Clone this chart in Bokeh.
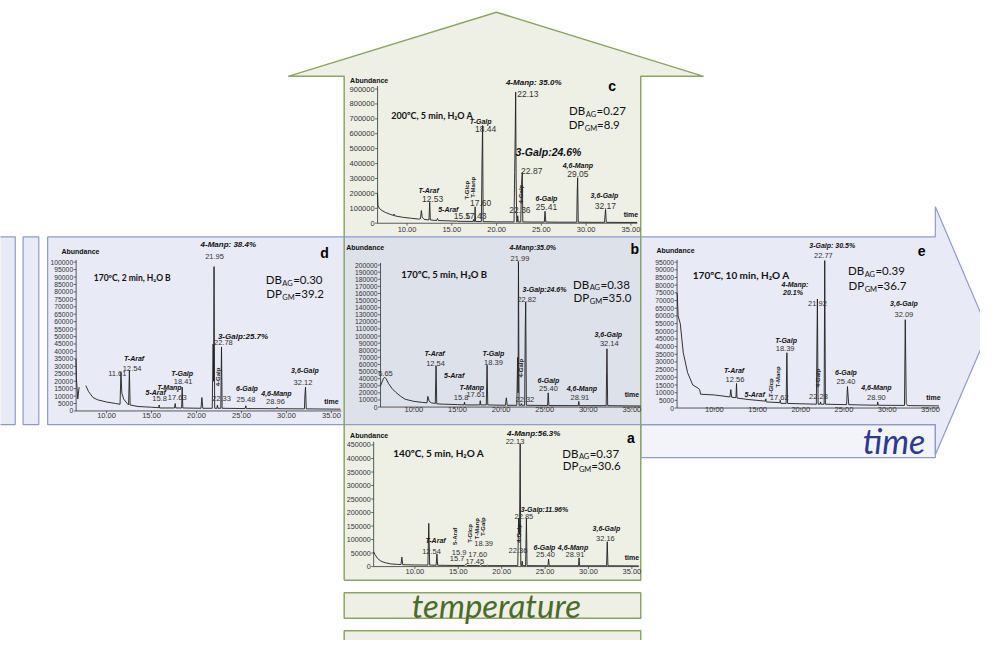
import math
from bokeh.plotting import figure
from bokeh.models import Range1d
from bokeh.core.properties import value
from bokeh.embed import file_html
from bokeh.resources import INLINE

# ===================== DATA =====================
x_ticks = [10, 15, 20, 25, 30, 35]
x_tick_labels = ["10.00", "15.00", "20.00", "25.00", "30.00", "35.00"]

# panel a : 140 C, 5 min, H2O A
a_t = [5.25, 5.4, 5.7, 6.1, 6.6, 7.2, 8.0, 8.4, 8.5, 8.6, 10.0, 11.5, 11.6, 11.7, 12.45, 12.54, 12.62,
       13.5, 15.7, 15.9, 16.0, 17.45, 17.6, 17.7, 18.3, 18.39, 18.45, 21.85, 21.95, 22.05, 22.13, 22.2,
       22.3, 22.36, 22.42, 22.75, 22.85, 22.92, 25.33, 25.4, 25.48, 28.85, 28.91, 28.98, 32.08, 32.16,
       32.24, 35.8]
a_y = [55000, 45000, 30000, 20000, 14000, 10000, 8000, 7500, 35000, 7000, 6000, 5500, 160000, 5500, 5000,
       47000, 5000, 4500, 4000, 8000, 4000, 3500, 8000, 3500, 3500, 6000, 3500, 3500, 180000, 120000,
       455000, 3500, 3500, 20000, 3500, 3500, 180000, 3500, 3000, 28000, 3000, 3000, 32000, 3000, 3000,
       92000, 3000, 2500]
a_yticks = [0, 50000, 100000, 150000, 200000, 250000, 300000, 350000, 400000, 450000]

# panel b : 170 C, 5 min, H2O B
b_t = [6.17, 6.3, 6.5, 6.65, 6.8, 7.1, 7.5, 7.9, 8.5, 9.0, 10.0, 11.0, 11.5, 11.6, 11.75, 12.0, 12.45,
       12.54, 12.62, 13.5, 15.0, 15.75, 15.8, 15.85, 17.55, 17.61, 17.67, 18.3, 18.39, 18.47, 20.5, 20.6,
       20.7, 21.8, 21.9, 21.95, 21.99, 22.06, 22.27, 22.32, 22.38, 22.7, 22.77, 22.82, 22.9, 25.33, 25.4,
       25.48, 28.85, 28.91, 28.97, 32.05, 32.1, 32.14, 32.22, 36.0]
b_y = [30000, 34000, 40000, 42000, 40000, 33000, 26000, 21000, 15000, 11000, 8000, 6500, 6000, 15000,
       8000, 6000, 5000, 58000, 4500, 4000, 3500, 3000, 7000, 3000, 3000, 9000, 3000, 3000, 59000, 3000,
       2500, 13000, 2500, 2500, 70000, 20000, 205000, 2500, 2500, 5000, 2500, 2500, 110000, 148000, 2500,
       2200, 20000, 2200, 2000, 8000, 2000, 2000, 50000, 82000, 2000, 1500]
b_yticks = list(range(0, 200001, 10000))

# panel c : 200 C, 5 min, H2O A
c_t = [6.7, 6.75, 6.9, 7.2, 7.6, 8.2, 8.5, 8.55, 8.6, 9.5, 10.5, 11.3, 11.5, 11.6, 11.7, 11.9, 12.45,
       12.53, 12.6, 13.3, 13.4, 13.5, 15.0, 15.5, 15.55, 15.6, 17.38, 17.43, 17.48, 17.55, 17.6, 17.65,
       18.3, 18.38, 18.44, 18.5, 20.0, 21.85, 21.95, 22.02, 22.08, 22.13, 22.18, 22.25, 22.3, 22.36,
       22.42, 22.7, 22.78, 22.87, 22.93, 24.0, 25.33, 25.41, 25.5, 27.0, 28.95, 29.0, 29.05, 29.12, 31.0,
       32.05, 32.12, 32.17, 32.25, 35.7]
c_y = [200000, 120000, 100000, 85000, 72000, 58000, 52000, 62000, 50000, 40000, 33000, 28000, 30000,
       85000, 40000, 26000, 22000, 140000, 22000, 18000, 32000, 18000, 15000, 14000, 18000, 13000, 12000,
       25000, 12000, 12000, 110000, 12000, 11000, 440000, 655000, 11000, 9000, 9000, 9000, 340000,
       600000, 880000, 300000, 9000, 9000, 50000, 9000, 9000, 260000, 340000, 9000, 8000, 8000, 80000,
       8000, 7000, 7000, 200000, 305000, 7000, 6000, 6000, 60000, 92000, 6000, 5000]
c_yticks = [0, 100000, 200000, 300000, 400000, 500000, 600000, 700000, 800000, 900000]

# panel d : 170 C, 2 min, H2O B
d_t = [6.6, 6.65, 6.8, 6.95, float("nan"), 7.7, 8.0, 8.5, 9.0, 10.0, 11.0, 11.5, 11.6, 11.7, 11.9, 12.3,
       12.45, 12.54, 12.62, 13.5, 15.0, 15.8, 15.85, 15.9, 17.55, 17.63, 17.7, 18.35, 18.41, 18.48, 20.5,
       20.6, 20.7, 21.75, 21.85, 21.9, 21.95, 22.02, 22.28, 22.33, 22.38, 22.7, 22.78, 22.85, 25.4, 25.48,
       25.55, 28.9, 28.96, 29.02, 32.0, 32.05, 32.12, 32.2, 36.0]
d_y = [35000, 22000, 8000, 16000, float("nan"), 17000, 13000, 9000, 7500, 6000, 5000, 4500, 26000, 12000,
       8000, 5000, 4000, 27500, 4000, 3000, 2500, 2200, 4000, 2000, 2000, 5000, 2000, 2000, 16000, 2000,
       1800, 9000, 1800, 1800, 45000, 20000, 97000, 1800, 1800, 4000, 1800, 1800, 43000, 1800, 1600, 3500,
       1600, 1500, 2500, 1500, 1400, 10000, 16000, 1400, 1200]
d_yticks = list(range(0, 100001, 5000))

# panel e : 170 C, 10 min, H2O A
e_t = [5.7, 5.8, 6.05, 6.4, 6.9, 7.5, 8.1, 8.3, 8.4, 10.0, 11.0, 11.8, 11.9, 12.0, 12.5, 12.56, 12.62,
       14.0, 15.9, 15.95, 16.0, 17.55, 17.62, 17.7, 18.3, 18.39, 18.47, 21.8, 21.92, 22.0, 22.23, 22.28,
       22.33, 22.7, 22.77, 22.85, 25.3, 25.4, 25.55, 27.0, 28.85, 28.9, 28.97, 32.0, 32.09, 32.2, 32.35,
       36.0]
e_y = [75000, 60000, 55000, 36000, 23000, 15000, 13000, 12000, 9000, 8500, 7800, 7200, 12000, 7000, 6800,
       16000, 6500, 5500, 4500, 6000, 4000, 3500, 5000, 3000, 3000, 36000, 3000, 2500, 71000, 2500, 2500,
       4000, 2500, 2500, 96000, 2500, 2200, 14000, 2200, 2000, 1800, 4000, 1800, 1700, 57500, 3000, 1600,
       1400]
e_yticks = list(range(0, 95001, 5000))

# ===================== LAYOUT (reference pixel frame 998 x 658) =====================
W, H = 998, 658
FN = "Liberation Sans Narrow, Liberation Sans, sans-serif"
FC = "Lato"

green_fill, green_line = "#eef0e6", "#8ca566"
blue_fill, blue_line = "#e8eaf6", "#8f9acb"
over_fill = "#dde1e9"

p = figure(width=980, height=640, x_range=Range1d(0, W), y_range=Range1d(H, 0),
           x_axis_type=None, y_axis_type=None, toolbar_location=None,
           output_backend="svg", min_border=0)
p.outline_line_color = None
p.grid.visible = False
p.background_fill_color = "white"
p.border_fill_color = "white"

# ---- green (temperature) arrow
ga_x = [350, 350, 293, 505, 716, 652, 652]
ga_y = [596, 78, 78, 12, 78, 78, 596]
p.patch(ga_x, ga_y, fill_color=green_fill, line_color=None)
# ---- blue (time) arrow
ba_x = [48, 952, 952, 1006, 952, 952, 48]
ba_y = [243, 243, 212, 340, 467, 436, 436]
p.patch(ba_x, ba_y, fill_color=blue_fill, line_color=None)
# left strips
p.quad(left=[-3, 23], right=[15, 39], top=[243, 243], bottom=[436, 436],
       fill_color=blue_fill, line_color=blue_line, line_width=1.2)
# overlap (panel b)
p.quad(left=[350], right=[652], top=[243], bottom=[436], fill_color=over_fill, line_color=None)
# "time" box
p.quad(left=[652], right=[952], top=[436], bottom=[470], fill_color="#f3f4fa", line_color=blue_line,
       line_width=1.2)
# temperature boxes
p.quad(left=[350, 350], right=[652, 652], top=[609, 648], bottom=[635, 675],
       fill_color=green_fill, line_color=green_line, line_width=1.5)
# outlines
p.line(ba_x + [48], ba_y + [243], line_color=blue_line, line_width=1.2)
p.line(ga_x + [350], ga_y + [596], line_color=green_line, line_width=1.5)

# big texts
p.text(x=[505], y=[621], text=["temperature"], text_font=value(FC), text_font_style="italic",
       text_font_size="33px", text_color="#4b6b2a", text_align="center", text_baseline="middle")
p.text(x=[910], y=[452], text=["time"], text_font=value(FC), text_font_style="italic",
       text_font_size="34px", text_color="#2c3a8e", text_align="center", text_baseline="middle")

STY = {
    "rt": dict(size="7.5px", style="normal", color="#333333", angle=0.0),
    "rtL": dict(size="8.5px", style="normal", color="#333333", angle=0.0),
    "nm": dict(size="7px", style="bold italic", color="#111111", angle=0.0),
    "pk": dict(size="8px", style="bold italic", color="#111111", angle=0.0),
    "pkL": dict(size="10.5px", style="bold italic", color="#111111", angle=0.0),
    "vt": dict(size="6px", style="bold", color="#222222", angle=math.pi / 2),
}
SUBW = {"AG": 11.0, "GM": 12.5}


def panel(name, t, y, yticks, geo, labels, cond, db, dp, letter):
    k = (geo["px35"] - geo["px10"]) / 25.0
    xr = Range1d(10 - geo["px10"] / k, 10 + (W - geo["px10"]) / k)
    ymax, py0, py1 = geo["ymax"], geo["py0"], geo["py1"]
    yr = Range1d((py0 - H) / (py0 - py1) * ymax, py0 / (py0 - py1) * ymax)
    xn, yn = "x_" + name, "y_" + name
    p.extra_x_ranges[xn] = xr
    p.extra_y_ranges[yn] = yr
    ax = geo["ax"]
    axc = "#333333"
    # axes
    p.segment(x0=[ax], y0=[0], x1=[ax], y1=[geo["ytop"]], x_range_name="default", y_range_name=yn,
              line_color=axc, line_width=0.8)
    p.segment(x0=[geo["t0"]], y0=[0], x1=[geo["t1"]], y1=[0], x_range_name=xn, y_range_name=yn,
              line_color=axc, line_width=0.8)
    p.segment(x0=[ax - 2.5] * len(yticks), y0=yticks, x1=[ax] * len(yticks), y1=yticks,
              x_range_name="default", y_range_name=yn, line_color=axc, line_width=0.7)
    p.text(x=[ax - 3] * len(yticks), y=yticks, text=[str(v) for v in yticks], x_range_name="default",
           y_range_name=yn, text_font=value(FN), text_font_size=geo["yfs"], text_color="#333333",
           text_align="right", text_baseline="middle")
    p.segment(x0=x_ticks, y0=[py0] * 6, x1=x_ticks, y1=[py0 + 2.5] * 6, x_range_name=xn,
              y_range_name="default", line_color=axc, line_width=0.7)
    p.text(x=x_ticks, y=[geo["xly"]] * 6, text=x_tick_labels, x_range_name=xn, y_range_name="default",
           text_font=value(FN), text_font_size="7.5px", text_color="#333333", text_align="center",
           text_baseline="middle")
    # trace
    p.line(t, y, x_range_name=xn, y_range_name=yn, line_color="#1e1e1e", line_width=0.9)
    # frame texts
    p.text(x=[geo["abx"]], y=[geo["aby"]], text=["Abundance"], text_font=value(FN),
           text_font_style="bold", text_font_size="7px", text_color="#111111", text_baseline="middle")
    p.text(x=[geo["tmx"]], y=[geo["tmy"]], text=["time"], text_font=value(FN), text_font_style="bold",
           text_font_size="7px", text_color="#111111", text_align="center", text_baseline="middle")
    p.text(x=[letter[1]], y=[letter[2]], text=[letter[0]], text_font=value("Liberation Sans"),
           text_font_style="bold", text_font_size="14px", text_color="#000000", text_align="center",
           text_baseline="middle")
    p.text(x=[cond[1]], y=[cond[2]], text=[cond[0]], text_font=value(FC), text_font_style="bold",
           text_font_size=cond[3], text_color="#111111", text_baseline="middle")
    for (main, sub, rest, xs, yy, ys) in (db, dp):
        p.text(x=[xs - 0.5], y=[yy], text=[main], text_font=value(FC), text_font_size="11.5px",
               text_color="#111111", text_baseline="middle", text_align="right")
        p.text(x=[xs], y=[ys], text=[sub], text_font=value(FC), text_font_size="7.5px",
               text_color="#111111", text_baseline="middle")
        p.text(x=[xs + SUBW[sub]], y=[yy], text=[rest], text_font=value(FC), text_font_size="11.5px",
               text_color="#111111", text_baseline="middle")
    # peak annotations
    for s, st in STY.items():
        sel = [lb for lb in labels if lb[3] == s]
        if not sel:
            continue
        p.text(x=[lb[1] for lb in sel], y=[lb[2] for lb in sel], text=[lb[0] for lb in sel],
               text_font=value(FN), text_font_size=st["size"], text_font_style=st["style"],
               text_color=st["color"], angle=st["angle"], text_align="center", text_baseline="middle")


# ---- panel c
panel("c", c_t, c_y, c_yticks,
      dict(ax=384, px10=414, px35=642, py0=229, py1=91, ymax=900000, ytop=920000, t0=6.7, t1=35.7,
           yfs="7.5px", xly=235, abx=356, aby=82, tmx=642, tmy=220),
      [("4-Manp: 35.0%", 543, 84, "pk"), ("22.13", 537, 96, "rtL"), ("T-Galp", 489, 124, "nm"),
       ("18.44", 494, 132, "rtL"), ("3-Galp:24.6%", 558, 156, "pkL"), ("22.87", 541, 175, "rtL"),
       ("4,6-Manp", 588, 170, "nm"), ("29.05", 588, 178, "rtL"), ("T-Araf", 436, 195, "nm"),
       ("12.53", 440, 204, "rtL"), ("5-Araf", 456, 215, "nm"), ("15.5", 470, 222, "rtL"),
       ("17.43", 484, 222, "rtL"), ("17.60", 489, 208, "rtL"), ("T-Glcp", 475, 195, "vt"),
       ("T-Manp", 481, 192, "vt"), ("6-Galp", 556, 204, "nm"), ("25.41", 556, 212, "rtL"),
       ("3,6-Galp", 615, 200, "nm"), ("32.17", 616, 211, "rtL"), ("22.36", 529, 215, "rtL"),
       ("4-Galp", 530, 199, "vt")],
      ("200ºC, 5 min, H₂O A", 398, 118, "9px"),
      ("DB", "AG", "=0.27", 596, 113, 117),
      ("DP", "GM", "=8.9", 595, 128, 132),
      ("c", 623, 88))

# ---- panel d
panel("d", d_t, d_y, d_yticks,
      dict(ax=77, px10=108, px35=337, py0=422, py1=269, ymax=100000, ytop=101500, t0=6.6, t1=36.1,
           yfs="6.8px", xly=427, abx=62, aby=258, tmx=337, tmy=412),
      [("4-Manp: 38.4%", 232, 251, "pk"), ("21.95", 218, 263, "rt"), ("3-Galp:25.7%", 247, 345, "pk"),
       ("22.78", 227, 352, "rt"), ("T-Araf", 136, 368, "nm"), ("12.54", 134, 378, "rt"),
       ("11.61", 119, 384, "rt"), ("5-Araf", 158, 403, "nm"), ("15.8", 162, 409, "rt"),
       ("T-Manp", 172, 398, "nm"), ("17.63", 180, 408, "rt"), ("T-Galp", 185, 383, "nm"),
       ("18.41", 186, 392, "rt"), ("4-Galp", 221, 387, "vt"), ("22.33", 225, 409, "rt"),
       ("6-Galp", 251, 399, "nm"), ("25.48", 250, 410, "rt"), ("4,6-Manp", 281, 404, "nm"),
       ("28.96", 280, 412, "rt"), ("3,6-Galp", 310, 380, "nm"), ("32.12", 308, 393, "rt")],
      ("170ºC, 2 min, H₂O B", 95, 285, "8.5px"),
      ("DB", "AG", "=0.30", 287, 287, 291),
      ("DP", "GM", "=39.2", 287, 301, 305),
      ("d", 330, 260))

# ---- panel b
panel("b", b_t, b_y, b_yticks,
      dict(ax=387, px10=421, px35=643, py0=418, py1=272, ymax=200000, ytop=203000, t0=6.17, t1=36.0,
           yfs="6.8px", xly=421, abx=352, aby=254, tmx=643, tmy=405),
      [("4-Manp:35.0%", 542, 254, "nm"), ("21.99", 529, 265, "rt"), ("3-Galp:24.6%", 554, 297, "nm"),
       ("22.82", 536, 307, "rt"), ("T-Araf", 442, 363, "nm"), ("12.54", 443, 373, "rt"),
       ("5-Araf", 462, 386, "nm"), ("T-Manp", 480, 398, "nm"), ("15.8", 469, 408, "rt"),
       ("17.61", 484, 405, "rt"), ("T-Galp", 502, 363, "nm"), ("18.39", 502, 372, "rt"),
       ("4-Galp", 530, 378, "vt"), ("22.32", 534, 410, "rt"), ("6-Galp", 558, 391, "nm"),
       ("25.40", 558, 399, "rt"), ("4,6-Manp", 592, 399, "nm"), ("28.91", 590, 408, "rt"),
       ("3,6-Galp", 619, 343, "nm"), ("32.14", 620, 353, "rt"), ("6.65", 392, 384, "rt")],
      ("170ºC, 5 min, H₂O B", 408, 282, "9.5px"),
      ("DB", "AG", "=0.38", 600, 292, 295),
      ("DP", "GM", "=35.0", 600, 305, 309),
      ("b", 646, 256))

# ---- panel e
panel("e", e_t, e_y, e_yticks,
      dict(ax=689, px10=727, px35=947, py0=419, py1=269, ymax=95000, ytop=96500, t0=5.7, t1=36.0,
           yfs="6.8px", xly=421, abx=668, aby=257, tmx=950, tmy=408),
      [("3-Galp: 30.5%", 847, 252, "nm"), ("22.77", 838, 262, "rt"), ("4-Manp:", 809, 292, "nm"),
       ("20.1%", 807, 300, "nm"), ("21.92", 832, 312, "rt"), ("T-Araf", 747, 380, "nm"),
       ("12.56", 748, 390, "rt"), ("5-Araf", 768, 405, "nm"), ("T-Glcp", 785, 398, "vt"),
       ("T-Manp", 792, 387, "vt"), ("17.62", 793, 408, "rt"), ("T-Galp", 800, 350, "nm"),
       ("18.39", 799, 358, "rt"), ("4-Galp", 833, 388, "vt"), ("22.28", 833, 407, "rt"),
       ("6-Galp", 861, 382, "nm"), ("25.40", 861, 392, "rt"), ("4,6-Manp", 892, 398, "nm"),
       ("28.90", 892, 408, "rt"), ("3,6-Galp", 920, 312, "nm"), ("32.09", 920, 323, "rt")],
      ("170ºC, 10 min, H₂O A", 705, 282, "10px"),
      ("DB", "AG", "=0.39", 880, 278, 282),
      ("DP", "GM", "=36.7", 880, 293, 297),
      ("e", 938, 258))

# ---- panel a
panel("a", a_t, a_y, a_yticks,
      dict(ax=380, px10=422, px35=643, py0=582, py1=457, ymax=450000, ytop=462000, t0=5.25, t1=35.8,
           yfs="7.2px", xly=587, abx=356, aby=447, tmx=643, tmy=573),
      [("4-Manp:56.3%", 543, 445, "pk"), ("22.13", 524, 453, "rt"), ("3-Galp:11.96%", 554, 523, "nm"),
       ("22.85", 533, 530, "rt"), ("22.36", 527, 565, "rt"), ("T-Araf", 443, 555, "nm"),
       ("12.54", 439, 566, "rt"), ("5-Araf", 463, 551, "vt"), ("15.9", 467, 568, "rt"),
       ("15.7", 465, 574, "rt"), ("T-Glcp", 478, 548, "vt"), ("T-Manp", 485, 543, "vt"),
       ("T-Galp", 491, 541, "vt"), ("18.39", 492, 558, "rt"), ("17.60", 486, 570, "rt"),
       ("17.45", 483, 577, "rt"), ("6-Galp", 554, 562, "nm"), ("25.40", 555, 570, "rt"),
       ("4,6-Manp", 583, 562, "nm"), ("28.91", 585, 570, "rt"), ("3,6-Galp", 617, 543, "nm"),
       ("32.16", 616, 553, "rt"), ("4-Galp", 528, 548, "vt")],
      ("140ºC, 5 min, H₂O A", 400, 465, "10px"),
      ("DB", "AG", "=0.37", 589, 466, 469),
      ("DP", "GM", "=30.6", 589, 478, 482),
      ("a", 642, 450))

open("out.html", "w").write(file_html(p, INLINE))
